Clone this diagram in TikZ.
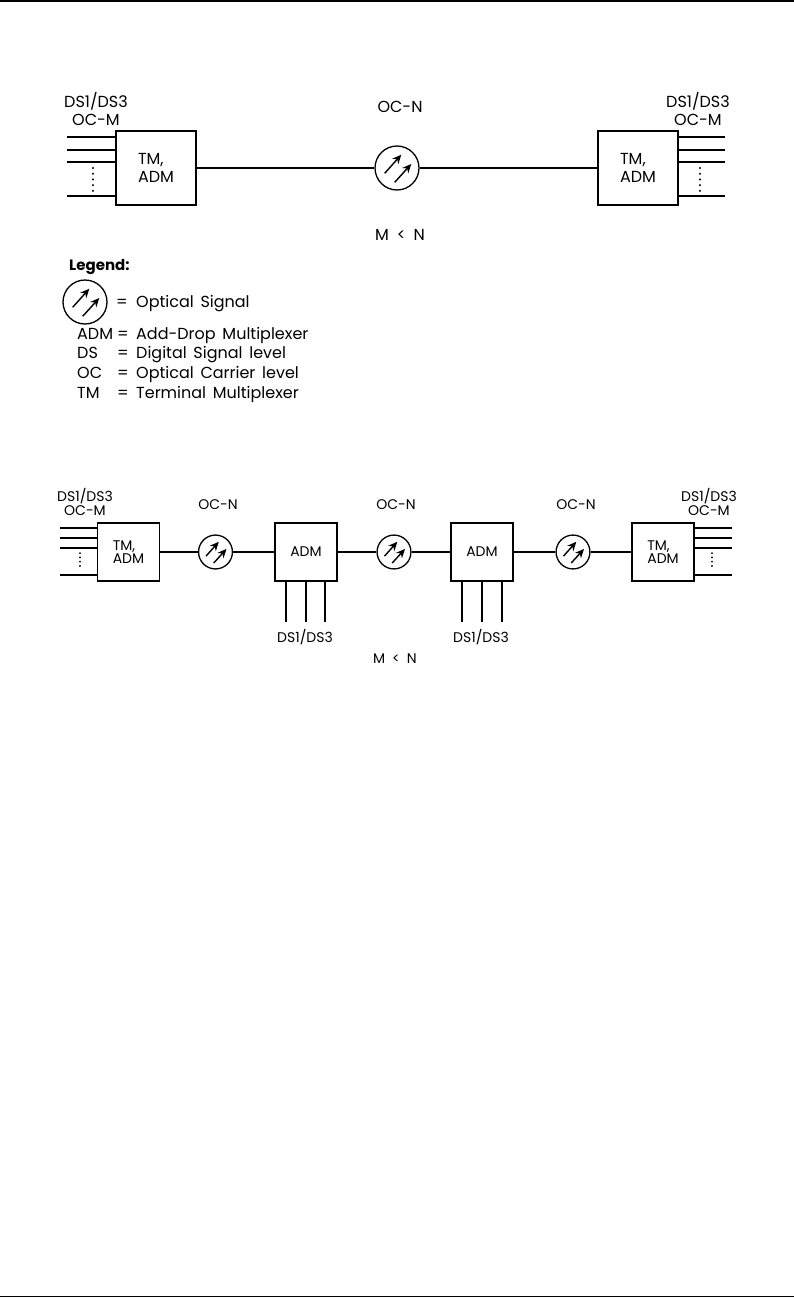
\documentclass[tikz,border=0pt]{standalone}
\usepackage{fontspec}
\setmainfont{Poppins}
\usetikzlibrary{arrows.meta,positioning,calc}

\begin{document}
\begin{tikzpicture}[
    x=1pt, y=1pt,
    lbl/.style={inner sep=0pt, align=center, font=\fontsize{16}{18}\selectfont},
    lblsm/.style={inner sep=0pt, align=center, font=\fontsize{14}{13.5}\selectfont},
    txt/.style={inner sep=0pt, anchor=base west, font={\fontsize{16}{18}\selectfont\spaceskip 0.42em\relax}},
    mux/.style={rectangle, draw, line width=1.7pt, inner sep=0pt, align=left, minimum width=#1},
    sig/.style={circle, draw, line width=1.3pt, inner sep=0pt, minimum size=44pt*#1, path picture={
        \draw [arr] ($(path picture bounding box.center)+(-12.3pt*#1,-5.3pt*#1)$) -- ++(16.6pt*#1,18.6pt*#1);
        \draw [arr] ($(path picture bounding box.center)+(-2.3pt*#1,-14.3pt*#1)$) -- ++(16.6pt*#1,18.3pt*#1);
    }},
    arr/.style={-{Stealth[length=9pt,width=8pt]}, line width=1.4pt},
    wire/.style={line width=1.4pt},
    vdots/.style={line width=2.4pt, line cap=round, dash pattern=on 0.1pt off 5.6pt}
]
    \useasboundingbox (0,0) rectangle (794,-1298);

    % page rules
    \coordinate (ruleAl) at (0,-1);
    \coordinate (ruleAr) at (794,-1);
    \coordinate (ruleBl) at (0,-1296.5);
    \coordinate (ruleBr) at (794,-1296.5);
    \draw [line width=1.8pt] (ruleAl) -- (ruleAr);
    \draw [line width=1.8pt] (ruleBl) -- (ruleBr);

    % upper network
    \node [mux=80pt, minimum height=74pt, font=\fontsize{16}{18}\selectfont] (tmL) at (156,-168) {TM,\\ADM};
    \node [sig=1, right=177.5pt of tmL] (sigA) {};
    \node [mux=80pt, minimum height=74pt, font=\fontsize{16}{18}\selectfont, right=177.5pt of sigA] (tmR) {TM,\\ADM};
    \draw [wire] (tmL) -- (sigA);
    \draw [wire] (sigA) -- (tmR);

    \foreach \i/\yy in {a/-137,b/-150,c/-162,d/-196} {
        \coordinate (inL\i) at (67,\yy);
        \coordinate (inR\i) at (725,\yy);
        \draw [wire] (inL\i) -- (inL\i -| tmL.west);
        \draw [wire] (inR\i) -- (inR\i -| tmR.east);
    }
    \coordinate (dotLa) at (93,-168);
    \coordinate (dotLb) at (93,-191);
    \coordinate (dotRa) at (700,-168);
    \coordinate (dotRb) at (700,-191);
    \draw [vdots] (dotLa) -- (dotLb);
    \draw [vdots] (dotRa) -- (dotRb);

    \node [lbl] (clientL) at (96,-109) {DS1/DS3\\OC-M};
    \node [lbl] (clientR) at (698,-109) {DS1/DS3\\OC-M};
    \node [lbl] (lineA) at (400,-107) {OC-N};
    \node [lbl] (relA) at (400,-235) {M\enspace<\enspace N};

    % legend
    \node [txt, font=\fontsize{15}{18}\bfseries\selectfont] (legTitle) at (69,-270.5) {Legend:};
    \node [sig=1] (sigKey) at (85,-302) {};
    \node [txt] (eqS) at (116,-307) {=};
    \node [txt] (txtS) at (136,-307) {Optical Signal};
    \foreach \k/\e/\d/\yy in {ADM/eqA/Add-Drop Multiplexer/-339, DS/eqB/Digital Signal level/-358.5, OC/eqC/Optical Carrier level/-378, TM/eqD/Terminal Multiplexer/-398} {
        \node [txt] (key\k) at (77,\yy) {\k};
        \node [txt] (\e) at (117,\yy) {=};
        \node [txt] (val\k) at (136,\yy) {\d};
    }

    % lower network
    \node [mux=62pt, minimum height=58pt, font=\fontsize{14}{13.5}\selectfont] (tmC) at (128.5,-552) {TM,\\ADM};
    \node [sig=0.77] (sigB) at (215.5,-552) {};
    \node [mux=62pt, minimum height=58pt, font=\fontsize{14}{13.5}\selectfont] (admA) at (306,-552) {ADM};
    \node [sig=0.77] (sigC) at (394,-552) {};
    \node [mux=62pt, minimum height=58pt, font=\fontsize{14}{13.5}\selectfont] (admB) at (482,-552) {ADM};
    \node [sig=0.77] (sigD) at (573,-552) {};
    \node [mux=62pt, minimum height=58pt, font=\fontsize{14}{13.5}\selectfont] (tmD) at (663,-552) {TM,\\ADM};
    \draw [wire] (tmC) -- (sigB);
    \draw [wire] (sigB) -- (admA);
    \draw [wire] (admA) -- (sigC);
    \draw [wire] (sigC) -- (admB);
    \draw [wire] (admB) -- (sigD);
    \draw [wire] (sigD) -- (tmD);

    \foreach \i/\yy in {a/-528,b/-538,c/-548,d/-575} {
        \coordinate (inC\i) at (60,\yy);
        \coordinate (inD\i) at (732,\yy);
        \draw [wire] (inC\i) -- (inC\i -| tmC.west);
        \draw [wire] (inD\i) -- (inD\i -| tmD.east);
    }
    \coordinate (dotCa) at (79.5,-553);
    \coordinate (dotCb) at (79.5,-570);
    \coordinate (dotDa) at (712,-553);
    \coordinate (dotDb) at (712,-570);
    \draw [vdots, line width=2pt, dash pattern=on 0.1pt off 4.2pt] (dotCa) -- (dotCb);
    \draw [vdots, line width=2pt, dash pattern=on 0.1pt off 4.2pt] (dotDa) -- (dotDb);

    \foreach \i/\xx in {a/286,b/306,c/325} {
        \coordinate (dropA\i) at (\xx,-622);
        \draw [wire] (dropA\i) -- (dropA\i |- admA.south);
    }
    \foreach \i/\xx in {a/462,b/482,c/502} {
        \coordinate (dropB\i) at (\xx,-622);
        \draw [wire] (dropB\i) -- (dropB\i |- admB.south);
    }

    \node [lblsm] (clientC) at (85,-502) {DS1/DS3\\OC-M};
    \node [lblsm] (clientD) at (709,-502) {DS1/DS3\\OC-M};
    \node [lblsm] (lineB) at (218,-505) {OC-N};
    \node [lblsm] (lineC) at (396,-505) {OC-N};
    \node [lblsm] (lineD) at (576,-505) {OC-N};
    \node [lblsm] (dropAt) at (305,-637) {DS1/DS3};
    \node [lblsm] (dropBt) at (481,-637) {DS1/DS3};
    \node [lblsm] (relB) at (395,-659) {M\enspace<\enspace N};
\end{tikzpicture}
\end{document}
